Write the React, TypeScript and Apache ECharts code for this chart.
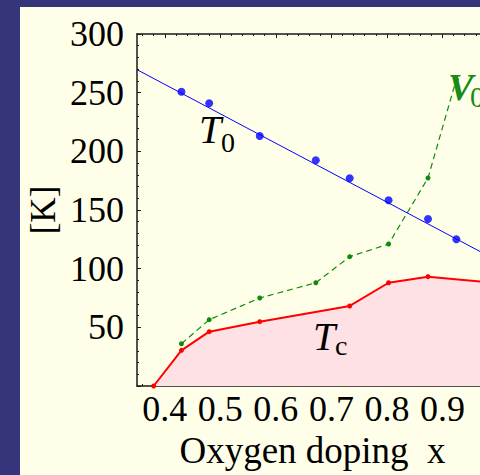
import React, { useEffect, useRef } from "react";
import * as echarts from "echarts";

// Oxygen doping x of the measured samples
const dopingX = [0.43, 0.48, 0.571, 0.672, 0.733, 0.803, 0.874, 0.925];
// T0 [K] (blue points)
const t0Values = [250.8, 241, 213.1, 192.4, 177, 158.3, 142.3, 125];
// T0 straight fit line (end points)
const t0FitX = [0.35, 1.0];
const t0FitY = [269.6, 106.5];
// V0 (green dashed)
const v0Values = [36, 56.5, 75, 88, 110.2, 121, 177.3, 261.4];
// Tc [K] (red, filled)
const tcX = [0.38, 0.43, 0.48, 0.571, 0.733, 0.803, 0.874, 1.0];
const tcValues = [0, 30.4, 46.3, 54.8, 68.2, 88, 93.2, 87.5];

// axis ticks
const xMajorTicks = [0.4, 0.5, 0.6, 0.7, 0.8, 0.9, 1.0];
const xTickLabels = [0.4, 0.5, 0.6, 0.7, 0.8, 0.9];
const xMinorTicks = [
  0.36, 0.38, 0.42, 0.44, 0.46, 0.48, 0.52, 0.54, 0.56, 0.58, 0.62, 0.64, 0.66,
  0.68, 0.72, 0.74, 0.76, 0.78, 0.82, 0.84, 0.86, 0.88, 0.92, 0.94, 0.96, 0.98,
];
const yTickLabels = [50, 100, 150, 200, 250, 300];

const FONT = "Liberation Serif";
const BORDER = "#35357b";
const BG = "#ffffe9";
const AXIS = "#1a1a1a";

export default function App() {
  const ref = useRef<HTMLDivElement>(null);

  useEffect(() => {
    if (!ref.current) return;
    const chart = echarts.init(ref.current, null, { renderer: "svg" });

    const xCommon = {
      type: "value" as const,
      min: 0.35,
      max: 1.0,
      splitLine: { show: false },
      minorTick: { show: false },
    };

    const option: any = {
      animation: false,
      backgroundColor: BG,
      grid: {
        left: 137,
        top: 34,
        bottom: 89,
        width: 361,
        containLabel: false,
        outerBoundsMode: "none",
      },
      xAxis: [
        {
          ...xCommon,
          position: "bottom",
          axisLine: { show: true, lineStyle: { color: AXIS, width: 1.5 } },
          axisTick: {
            show: true,
            inside: true,
            length: 4,
            customValues: xMajorTicks,
            lineStyle: { color: AXIS, width: 1 },
          },
          axisLabel: {
            show: true,
            customValues: xTickLabels,
            formatter: (v: number) => v.toFixed(1),
            margin: 5,
            fontFamily: FONT,
            fontSize: 36,
            color: "#000",
          },
          name: "Oxygen doping  x",
          nameLocation: "middle",
          nameGap: 39,
          nameTextStyle: {
            fontFamily: FONT,
            fontSize: 37,
            color: "#000",
            padding: [0, 10, 0, 0],
          },
        },
        {
          ...xCommon,
          position: "bottom",
          axisLine: { show: false },
          axisTick: {
            show: true,
            inside: true,
            length: 2,
            customValues: xMinorTicks,
            lineStyle: { color: AXIS, width: 1 },
          },
          axisLabel: { show: false },
        },
        {
          ...xCommon,
          position: "top",
          axisLine: { show: true, lineStyle: { color: AXIS, width: 1.5 } },
          axisTick: {
            show: true,
            inside: true,
            length: 4,
            customValues: xMajorTicks,
            lineStyle: { color: AXIS, width: 1 },
          },
          axisLabel: { show: false },
        },
        {
          ...xCommon,
          position: "top",
          axisLine: { show: false },
          axisTick: {
            show: true,
            inside: true,
            length: 2,
            customValues: xMinorTicks,
            lineStyle: { color: AXIS, width: 1 },
          },
          axisLabel: { show: false },
        },
      ],
      yAxis: [
        {
          type: "value",
          min: 0,
          max: 300,
          interval: 50,
          position: "left",
          axisLine: { show: true, lineStyle: { color: AXIS, width: 1.5 } },
          axisTick: {
            show: true,
            inside: true,
            length: 4,
            lineStyle: { color: AXIS, width: 1 },
          },
          minorTick: {
            show: true,
            splitNumber: 5,
            length: 2,
            lineStyle: { color: AXIS, width: 1 },
          },
          splitLine: { show: false },
          minorSplitLine: { show: false },
          axisLabel: {
            show: true,
            margin: 13,
            fontFamily: FONT,
            fontSize: 36,
            color: "#000",
            formatter: (v: number) =>
              yTickLabels.indexOf(v) >= 0 ? String(v) : "",
          },
        },
      ],
      graphic: [
        { type: "rect", shape: { x: 0, y: 0, width: 20, height: 475 }, style: { fill: BORDER }, silent: true },
        { type: "rect", shape: { x: 0, y: 0, width: 480, height: 7 }, style: { fill: BORDER }, silent: true },
        {
          type: "text",
          x: 43,
          y: 210,
          rotation: Math.PI / 2,
          style: {
            text: "[K]",
            fontFamily: FONT,
            fontSize: 35,
            fill: "#000",
            align: "center",
            verticalAlign: "middle",
          },
          z: 100,
        },
        {
          type: "text",
          x: 199,
          y: 129.5,
          style: {
            text: "T",
            fontFamily: FONT,
            fontStyle: "italic",
            fontSize: 40,
            fill: "#000",
            align: "left",
            verticalAlign: "middle",
          },
          z: 100,
        },
        {
          type: "text",
          x: 221,
          y: 142,
          style: {
            text: "0",
            fontFamily: FONT,
            fontSize: 28,
            fill: "#000",
            align: "left",
            verticalAlign: "middle",
          },
          z: 100,
        },
        {
          type: "text",
          x: 313,
          y: 336.5,
          style: {
            text: "T",
            fontFamily: FONT,
            fontStyle: "italic",
            fontSize: 40,
            fill: "#000",
            align: "left",
            verticalAlign: "middle",
          },
          z: 100,
        },
        {
          type: "text",
          x: 335,
          y: 345.5,
          style: {
            text: "c",
            fontFamily: FONT,
            fontSize: 28,
            fill: "#000",
            align: "left",
            verticalAlign: "middle",
          },
          z: 100,
        },
        {
          type: "text",
          x: 448,
          y: 86.5,
          style: {
            text: "V",
            fontFamily: FONT,
            fontStyle: "italic",
            fontWeight: "bold",
            fontSize: 38,
            fill: "#168c16",
            align: "left",
            verticalAlign: "middle",
          },
          z: 100,
        },
        {
          type: "text",
          x: 470,
          y: 97,
          style: {
            text: "0",
            fontFamily: FONT,
            fontSize: 29,
            fill: "#168c16",
            align: "left",
            verticalAlign: "middle",
          },
          z: 100,
        },
      ],
      series: [
        {
          name: "Tc",
          type: "line",
          xAxisIndex: 0,
          yAxisIndex: 0,
          data: tcX.map((x, i) => [x, tcValues[i]]),
          symbol: "circle",
          symbolSize: 5,
          showSymbol: true,
          itemStyle: { color: "#ff0000" },
          lineStyle: { color: "#ff0000", width: 2 },
          areaStyle: { color: "#fde1e5", opacity: 1 },
          z: 2,
        },
        {
          name: "V0",
          type: "line",
          xAxisIndex: 0,
          yAxisIndex: 0,
          data: dopingX.map((x, i) => [x, v0Values[i]]),
          symbol: "circle",
          symbolSize: 5,
          itemStyle: { color: "#0e8a0e" },
          lineStyle: { color: "#0e8a0e", width: 1.2, type: [6, 4] },
          z: 3,
        },
        {
          name: "T0 fit",
          type: "line",
          xAxisIndex: 0,
          yAxisIndex: 0,
          data: t0FitX.map((x, i) => [x, t0FitY[i]]),
          symbol: "none",
          lineStyle: { color: "#0000ff", width: 1 },
          z: 4,
        },
        {
          name: "T0",
          type: "scatter",
          xAxisIndex: 0,
          yAxisIndex: 0,
          data: dopingX.map((x, i) => [x, t0Values[i]]),
          symbol: "circle",
          symbolSize: 8,
          itemStyle: { color: "#0000ff" },
          z: 5,
        },
      ],
    };

    chart.setOption(option);
    return () => chart.dispose();
  }, []);

  return (
    <div
      style={{
        position: "fixed",
        left: 0,
        top: 0,
        width: 480,
        height: 475,
        overflow: "hidden",
      }}
    >
      <div ref={ref} style={{ width: 480, height: 475 }} />
    </div>
  );
}
